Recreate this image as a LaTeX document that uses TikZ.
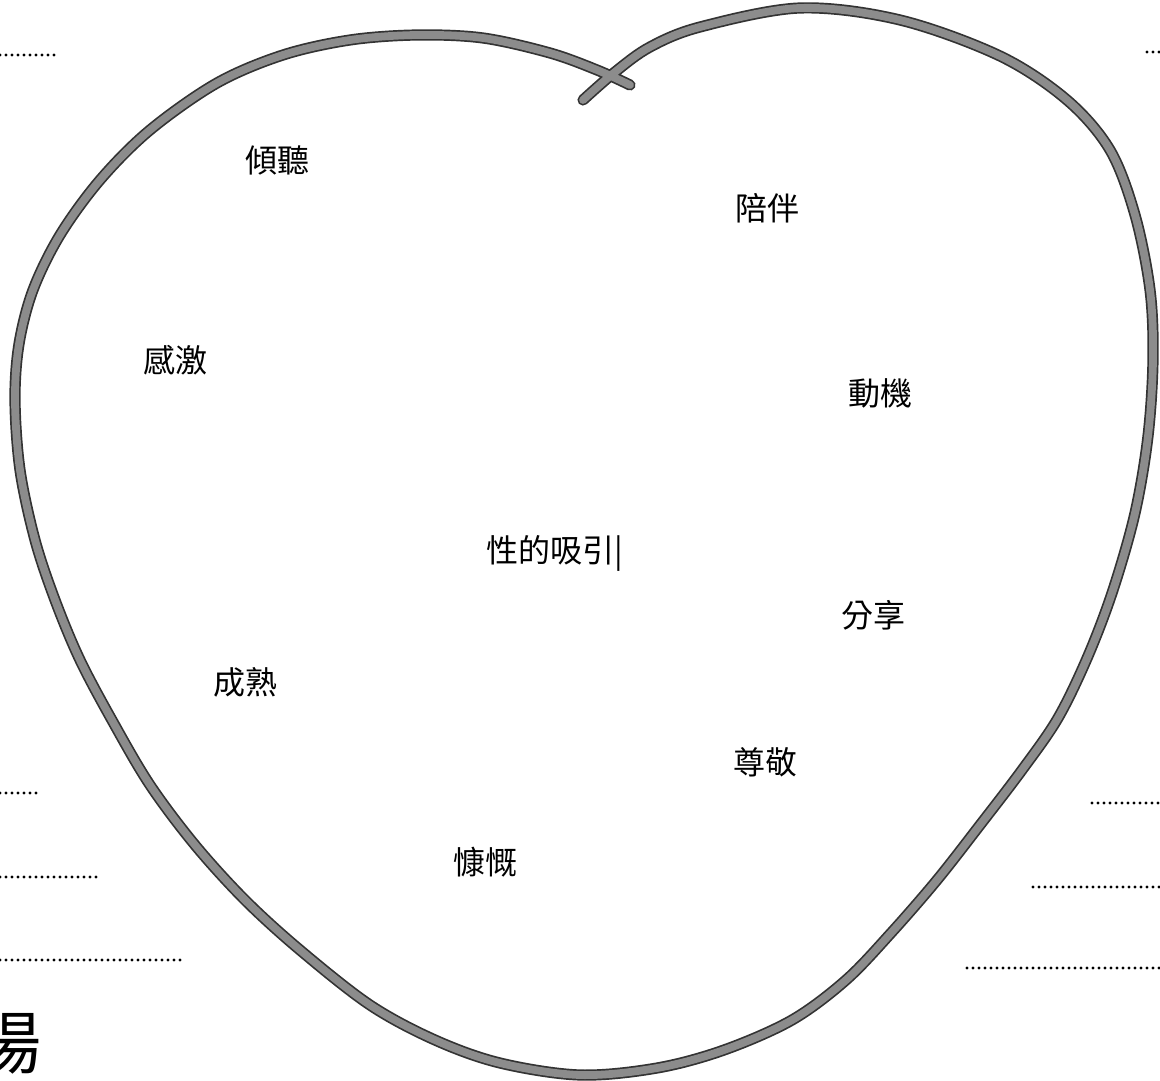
\documentclass[tikz,border=0pt]{standalone}
\usepackage{fontspec}
\newfontfamily\cjk{Noto Sans CJK TC}
\begin{document}
\begin{tikzpicture}[x=0.5pt,y=-0.5pt,
  lbl/.style={font=\cjk\fontsize{16}{16}\selectfont, inner sep=0pt},
  dotline/.style={line width=1.6pt, line cap=round, dash pattern=on 0pt off 3pt},
  heartout/.style={line width=5.6pt, line cap=round, line join=round, black!80},
  heartin/.style={line width=3.9pt, line cap=round, line join=round, black!45}]
\useasboundingbox (0,0) rectangle (1160,1080);
\clip (0,0) rectangle (1160,1080);
\fill[white] (0,0) rectangle (1160,1080);

% heart: one continuous stroke, crossing itself at the top
\def\heartline{plot[smooth, tension=0.55] coordinates {(630,85) (597,70) (550,53) (483,38) (417,35) (350,40) (283,55) (217,83) (150,130) (100,180) (60,235) (33,290) (19,344) (15,400) (20,470) (35,540) (55,600) (80,660) (113,722) (150,785) (195,845) (245,900) (300,950) (370,1005) (435,1040) (500,1063) (580,1075) (657,1068) (724,1050) (792,1020) (846,980) (891,933) (937,880) (980,825) (1022,770) (1058,718) (1088,656) (1113,590) (1135,513) (1148,436) (1153,359) (1150,290) (1135,215) (1110,150) (1067,100) (1000,56) (900,20) (800,8) (700,27) (650,47) (615,72) (583,100)}}
\draw[heartout] \heartline;
\draw[heartin] \heartline;

% dotted lines
\coordinate (l1a) at (0,55);   \coordinate (l1b) at (60,55);
\coordinate (l2a) at (0,793);  \coordinate (l2b) at (42,793);
\coordinate (l3a) at (0,877);  \coordinate (l3b) at (100,877);
\coordinate (l4a) at (0,960);  \coordinate (l4b) at (185,960);
\coordinate (r1a) at (1147,52); \coordinate (r1b) at (1160,52);
\coordinate (r2a) at (1092,803); \coordinate (r2b) at (1160,803);
\coordinate (r3a) at (1033,887); \coordinate (r3b) at (1160,887);
\coordinate (r4a) at (967,968);  \coordinate (r4b) at (1160,968);
\foreach \a/\b in {l1a/l1b,l2a/l2b,l3a/l3b,l4a/l4b,r1a/r1b,r2a/r2b,r3a/r3b,r4a/r4b}
  \draw[dotline] (\a) -- (\b);

% labels
\node[lbl] (qt) at (277,160) {傾聽};
\node[lbl] (pb) at (767,208) {陪伴};
\node[lbl] (gj) at (175,360) {感激};
\node[lbl] (dj) at (880,393) {動機};
\node[lbl] (xy) at (555,553) {性的吸引|};
\node[lbl] (fx) at (873,615) {分享};
\node[lbl] (cs) at (245,682) {成熟};
\node[lbl] (zj) at (765,762) {尊敬};
\node[lbl] (kk) at (485,862) {慷慨};
\node[font=\cjk\fontsize{34}{34}\selectfont, inner sep=0pt] (ch) at (8,1043) {場};
\end{tikzpicture}
\end{document}
